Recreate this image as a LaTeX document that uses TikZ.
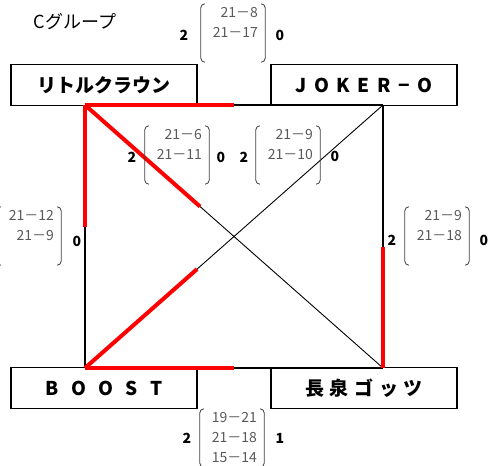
\documentclass[tikz,border=0pt]{standalone}
\usepackage{fontspec}
\setmainfont{Noto Sans CJK JP}
\usetikzlibrary{calc}

\tikzset{
  team/.style={draw, line width=1.5pt, minimum width=186pt, minimum height=41pt, inner sep=0pt, font=\bfseries\fontsize{19}{19}\selectfont},
  score/.style={align=right, text width=50pt, inner xsep=7pt, inner ysep=-1pt, text=black!65, font=\fontsize{14}{20}\selectfont},
  bracket/.style={draw=black!75, line width=0.8pt, rounded corners=4pt},
  pts/.style={font=\bfseries\fontsize{14}{14}\selectfont},
  edge/.style={line width=1.5pt},
  diag/.style={line width=0.9pt},
  win/.style={red, line width=4pt},
}

% round brackets drawn around a score node
\newcommand\scorebrackets[1]{%
  \draw[bracket] ([xshift=4pt]#1.north west) -- (#1.north west) -- (#1.south west) -- ([xshift=4pt]#1.south west);
  \draw[bracket] ([xshift=-4pt]#1.north east) -- (#1.north east) -- (#1.south east) -- ([xshift=-4pt]#1.south east);}

\begin{document}
\begin{tikzpicture}[x=1pt, y=-1pt]

    \useasboundingbox (0,0) rectangle (491,466);

    % Group title
    \node[font=\fontsize{18}{18}\selectfont] (grp) at (75,22) {Cグループ};

    % Teams
    \node[team] (rc) at (104,85) {リトルクラウン};
    \node[team] (jk) at (364,85) {\addfontfeature{LetterSpace=40}JOKER−O};
    \node[team] (bs) at (104,388) {\addfontfeature{LetterSpace=65}BOOST};
    \node[team] (ng) at (364,388) {\addfontfeature{LetterSpace=30}長泉ゴッツ};

    % Corners of the league square
    \coordinate (tl) at (85,105);
    \coordinate (tr) at (383,105);
    \coordinate (bl) at (85,368);
    \coordinate (br) at (383,368);

    % Match lines
    \draw[edge] (tl) -- (tr);
    \draw[edge] (bl) -- (br);
    \draw[edge] (tl) -- (bl);
    \draw[edge] (tr) -- (br);
    \draw[diag] (tl) -- (br);
    \draw[diag] (bl) -- (tr);

    % Winners (red, from the winning side)
    \draw[win] (tl) -- ($(tl)!0.5!(tr)$);
    \draw[win] (tl) -- ($(tl)!0.464!(bl)$);
    \draw[win] (tl) -- ($(tl)!0.386!(br)$);
    \draw[win] (bl) -- ($(bl)!0.376!(tr)$);
    \draw[win] (bl) -- ($(bl)!0.5!(br)$);
    \draw[win] (br) -- ($(br)!0.46!(tr)$);

    % Scores
    \node[score] (sTop) at (233,33) {\strut 21－8\\21－17\\\strut};
    \scorebrackets{sTop}
    \node[pts] at (184,35) {2};
    \node[pts] at (280,35) {0};

    \node[score] (sMidL) at (177,155) {\strut 21－6\\21－11\\\strut};
    \scorebrackets{sMidL}
    \node[pts] at (132,157) {2};
    \node[pts] at (221,157) {0};

    \node[score] (sMidR) at (288,155) {\strut 21－9\\21－10\\\strut};
    \scorebrackets{sMidR}
    \node[pts] at (244,157) {2};
    \node[pts] at (335,156) {0};

    \node[score] (sLeft) at (29,236) {\strut 21－12\\21－9\\\strut};
    \scorebrackets{sLeft}
    \node[pts] at (77,241) {0};

    \node[score] (sRight) at (437,236) {\strut 21－9\\21－18\\\strut};
    \scorebrackets{sRight}
    \node[pts] at (392,240) {2};
    \node[pts] at (484,240) {0};

    \node[score] (sBot) at (232,438) {\strut 19－21\\21－18\\15－14\strut};
    \scorebrackets{sBot}
    \node[pts] at (187,438) {2};
    \node[pts] at (280,438) {1};

\end{tikzpicture}
\end{document}
